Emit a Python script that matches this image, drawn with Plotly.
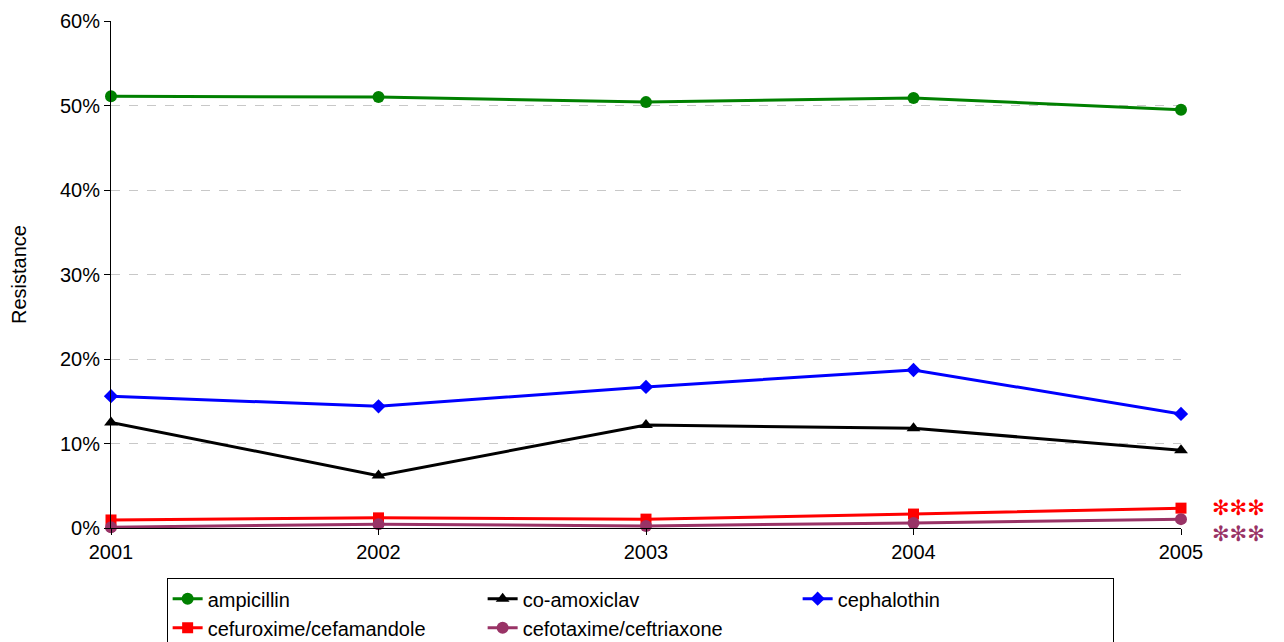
import plotly.graph_objects as go

years = [2001, 2002, 2003, 2004, 2005]

ampicillin = [0.511, 0.510, 0.504, 0.509, 0.495]
co_amoxiclav = [0.125, 0.062, 0.122, 0.118, 0.092]
cephalothin = [0.156, 0.144, 0.167, 0.187, 0.135]
cefuroxime = [0.0095, 0.012, 0.0105, 0.0165, 0.0235]
cefotaxime = [0.001, 0.0045, 0.0025, 0.006, 0.0105]

font = "Liberation Sans, Arial"

series = [
    ("ampicillin", ampicillin, "#008000", "circle", 12),
    ("co-amoxiclav", co_amoxiclav, "#000000", "triangle-up", 12),
    ("cephalothin", cephalothin, "#0000FF", "diamond", 11),
    ("cefuroxime/cefamandole", cefuroxime, "#FF0000", "square", 11),
    ("cefotaxime/ceftriaxone", cefotaxime, "#993366", "circle", 12),
]

fig = go.Figure()
for name, vals, color, sym, size in series:
    fig.add_trace(go.Scatter(
        x=years, y=vals, name=name, mode="lines+markers",
        line=dict(color=color, width=3),
        marker=dict(symbol=sym, size=size, color=color),
        cliponaxis=False,
    ))

# significance markers next to the last points
fig.add_annotation(x=2005, y=cefuroxime[-1], text="✻✻✻", showarrow=False,
                   xanchor="left", xshift=29, yshift=0,
                   font=dict(color="#FF0000", size=21, family="DejaVu Sans"))
fig.add_annotation(x=2005, y=cefotaxime[-1], text="✻✻✻", showarrow=False,
                   xanchor="left", xshift=29, yshift=-15,
                   font=dict(color="#993366", size=21, family="DejaVu Sans"))

# page body adds an 8px offset, margins are shifted to compensate;
# figure is a bit taller than the window so the legend runs off the bottom
fig.update_layout(
    width=1284, height=660,
    margin=dict(l=103, r=111, t=13, b=140),
    paper_bgcolor="white", plot_bgcolor="white",
    font=dict(family=font, size=20, color="black"),
    showlegend=True,
    legend=dict(
        orientation="h", x=0.052, y=-0.099, xanchor="left", yanchor="top",
        bordercolor="black", borderwidth=1, entrywidth=270,
        font=dict(size=20), tracegroupgap=0,
    ),
    xaxis=dict(
        range=[2001, 2005], tickvals=years, showgrid=False, automargin=False,
        showline=True, linecolor="black", ticks="outside", ticklen=6,
        tickcolor="black", zeroline=False,
    ),
    yaxis=dict(
        range=[0, 0.6], dtick=0.1, tickformat=".0%", automargin=False,
        showgrid=True, gridcolor="#C8C8C8", griddash="dash",
        showline=True, linecolor="black", ticks="outside", ticklen=6,
        tickcolor="black", zeroline=False,
        title=dict(text="Resistance", font=dict(size=20), standoff=32),
    ),
)

fig.write_html("out.html")
